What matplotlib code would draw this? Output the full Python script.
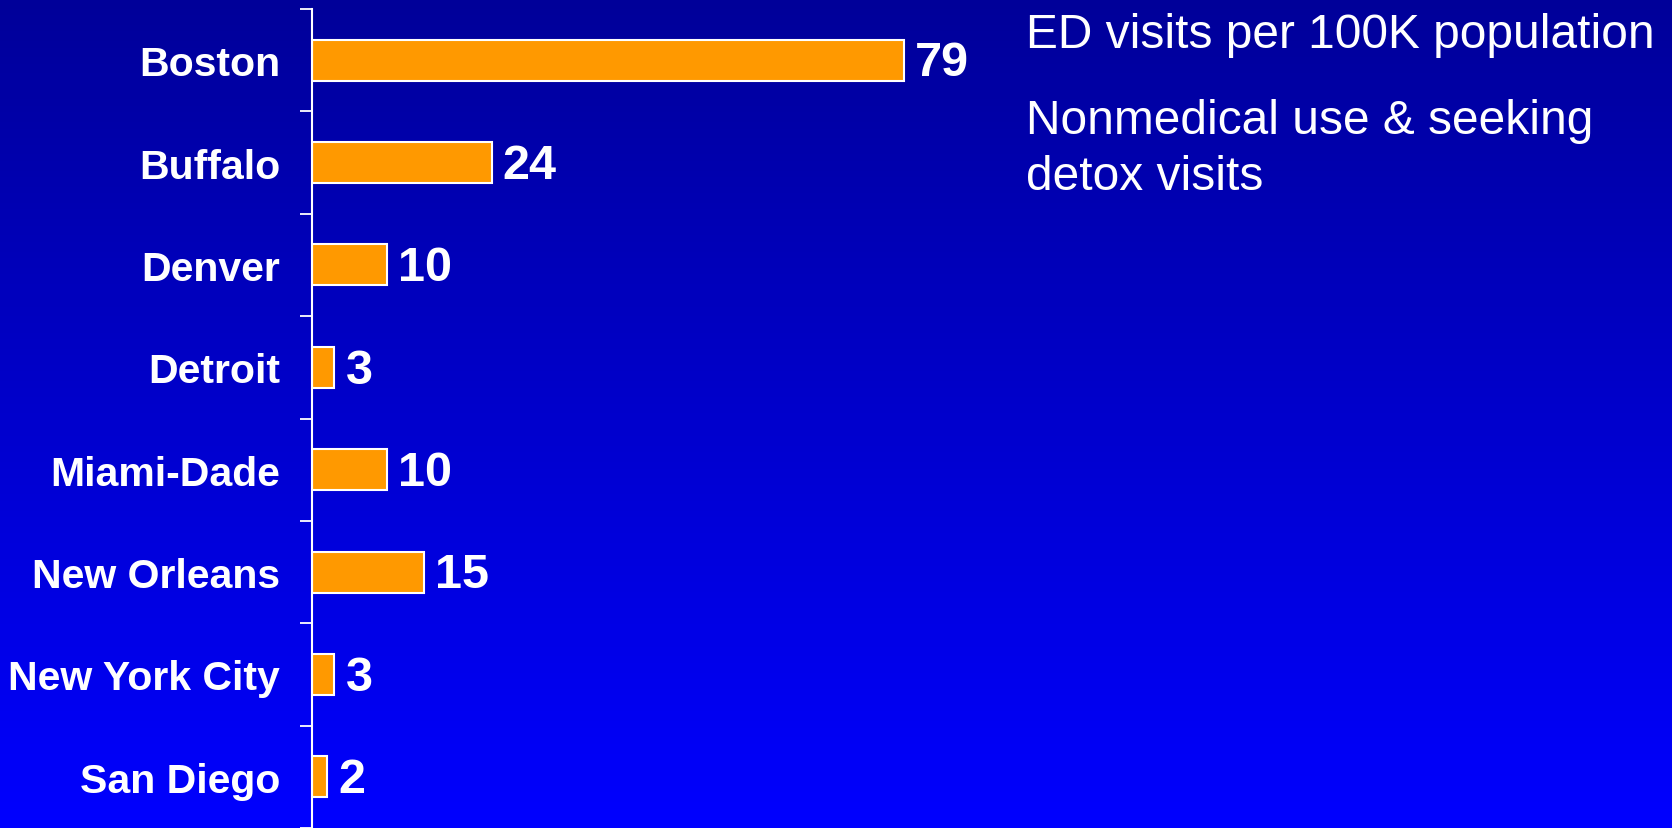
import matplotlib
matplotlib.use("Agg")
import matplotlib.pyplot as plt
import numpy as np

plt.rcParams['font.family'] = ['Liberation Sans', 'DejaVu Sans']

# data
cities = ["Boston", "Buffalo", "Denver", "Detroit", "Miami-Dade",
          "New Orleans", "New York City", "San Diego"]
values = [79, 24, 10, 3, 10, 15, 3, 2]

W, H = 1672, 829
fig = plt.figure(figsize=(W / 100, H / 100), dpi=100)

# background gradient, dark navy at top to bright blue at bottom
bg = fig.add_axes([0, 0, 1, 1], zorder=-1)
grad = np.linspace(0, 1, 256).reshape(-1, 1)
top = np.array([0x00, 0x00, 0x99]) / 255
bot = np.array([0x00, 0x00, 0xFF]) / 255
img = top + (bot - top) * grad[..., None]
bg.imshow(img, aspect='auto', extent=[0, 1, 0, 1], origin='upper')
bg.axis('off')

# main bar axes
x0 = 312
ax = fig.add_axes([x0 / W, 0, (W - x0) / W, (H - 10) / H])
ax.set_facecolor('none')
y = np.arange(len(cities))
bars = ax.barh(y, values, height=0.4, color='#FF9900',
               edgecolor='white', linewidth=1.5)
ax.set_xlim(0, (W - x0) / 7.49)
ax.set_ylim(len(cities) - 0.5, -0.5)

for s in ['top', 'right', 'bottom']:
    ax.spines[s].set_visible(False)
ax.spines['left'].set_color('white')
ax.spines['left'].set_linewidth(1.5)
ax.set_xticks([])

# tick marks between categories, labels at centres
ax.set_yticks(np.arange(-0.5, len(cities), 1.0))
ax.set_yticklabels([])
ax.tick_params(axis='y', which='major', direction='out', length=8.6,
               width=1.3, color='white')
ax.set_yticks(y, minor=True)
ax.set_yticklabels(cities, minor=True)
ax.tick_params(axis='y', which='minor', length=0, pad=23,
               labelsize=29.5, labelcolor='white')
for lab in ax.get_yticklabels(minor=True):
    lab.set_fontweight('bold')

vals = ax.bar_label(bars, labels=[str(v) for v in values], padding=8,
                    fontsize=35, fontweight='bold', color='white')
for t in vals:
    t.xyann = (8, -2)   # nudge down a touch

# notes on the right
fig.text(1026 / W, 1 - 48 / H, "ED visits per 100K population",
         fontsize=34.5, color='white', va='baseline', ha='left')
fig.text(1026 / W, 1 - 134 / H, "Nonmedical use & seeking",
         fontsize=34.5, color='white', va='baseline', ha='left')
fig.text(1026 / W, 1 - 190 / H, "detox visits",
         fontsize=34.5, color='white', va='baseline', ha='left')

fig.savefig('out.png', dpi=100)
